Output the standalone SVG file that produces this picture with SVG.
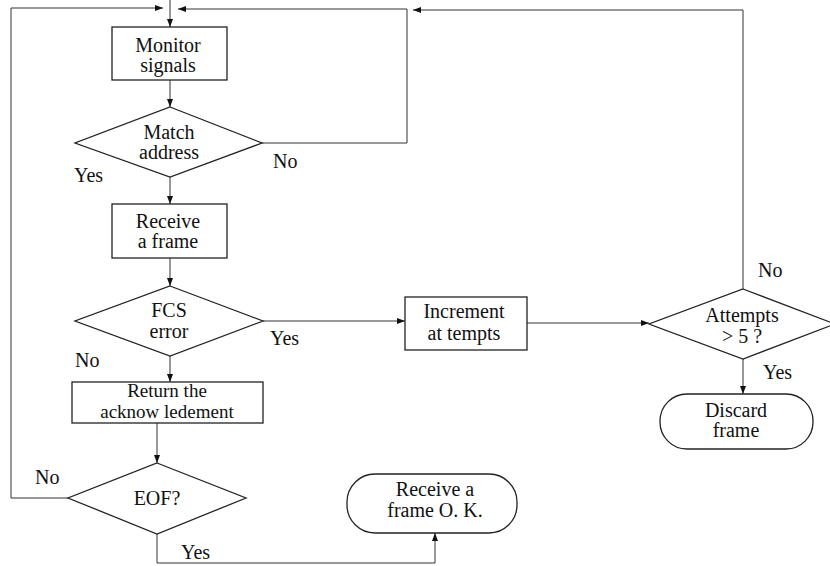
<svg xmlns="http://www.w3.org/2000/svg" width="830" height="566" viewBox="0 0 830 566">
<defs>
<style>
.n{fill:#fff;stroke:#222;stroke-width:1.3}
.c{fill:none;stroke:#333;stroke-width:1;marker-end:url(#ah)}
text{font-family:"Liberation Serif","Times New Roman",serif;font-size:20px;fill:#111}
.m{text-anchor:middle}
.s{font-size:19px}
</style>
<marker id="ah" markerUnits="userSpaceOnUse" markerWidth="9" markerHeight="7" refX="8" refY="3" orient="auto"><path d="M0,0 L8,3 L0,6 z" fill="#111"/></marker>
</defs>
<rect width="830" height="566" fill="#fff"/>
<g id="connectors">
<path class="c" d="M170,0 V27"/>
<path class="c" d="M68,498 H11 V8 H163"/>
<path class="c" d="M262,143 H407 V9 H178"/>
<path class="c" d="M743,289 V10 H413"/>
<path class="c" d="M170,80 V107"/>
<path class="c" d="M170,177 V204"/>
<path class="c" d="M170,258 V286"/>
<path class="c" d="M170,356 V382"/>
<path class="c" d="M263,321 H405"/>
<path class="c" d="M527,323 H649"/>
<path class="c" d="M157,423 V463"/>
<path class="c" d="M157,534 V563 H435 V533"/>
<path class="c" d="M743,359 V394"/>
<text x="273" y="168">No</text>
<text x="74" y="182">Yes</text>
<text x="270" y="345">Yes</text>
<text x="75" y="367">No</text>
<text x="35" y="484">No</text>
<text x="181" y="559">Yes</text>
<text x="758" y="277">No</text>
<text x="763" y="379">Yes</text>
</g>
<g id="monitor">
<rect class="n" x="112" y="27" width="115" height="53"/>
<text class="m" x="168" y="52">Monitor</text>
<text class="m" x="168" y="72">signals</text>
</g>
<g id="match">
<polygon class="n" points="170,107 262,143 170,177 75,143"/>
<text class="m" x="169" y="139">Match</text>
<text class="m" x="169" y="159">address</text>
</g>
<g id="receive">
<rect class="n" x="112" y="204" width="115" height="54"/>
<text class="m" x="168" y="228">Receive</text>
<text class="m" x="168" y="248">a frame</text>
</g>
<g id="fcs">
<polygon class="n" points="170,286 263,321 170,356 75,321"/>
<text class="m" x="169" y="317">FCS</text>
<text class="m" x="169" y="338">error</text>
</g>
<g id="return">
<rect class="n" x="72" y="382" width="191" height="41"/>
<text class="m s" x="167" y="397">Return the</text>
<text class="m s" x="167" y="418">acknow ledement</text>
</g>
<g id="eof">
<polygon class="n" points="157,463 246,498 157,534 68,498"/>
<text class="m" x="157" y="505">EOF?</text>
</g>
<g id="ok">
<rect class="n" x="347" y="474" width="170" height="59" rx="28" ry="28"/>
<text class="m" x="435" y="496">Receive a</text>
<text class="m" x="435" y="517">frame O. K.</text>
</g>
<g id="increment">
<rect class="n" x="405" y="297" width="122" height="53"/>
<text class="m" x="464" y="318">Increment</text>
<text class="m" x="464" y="340">at tempts</text>
</g>
<g id="attempts">
<polygon class="n" points="743,289 835,324 743,359 649,324"/>
<text class="m" x="742" y="322">Attempts</text>
<text class="m" x="742" y="343">&gt; 5 ?</text>
</g>
<g id="discard">
<rect class="n" x="660" y="394" width="153" height="55" rx="27" ry="27"/>
<text class="m" x="736" y="417">Discard</text>
<text class="m" x="736" y="437">frame</text>
</g>
</svg>
